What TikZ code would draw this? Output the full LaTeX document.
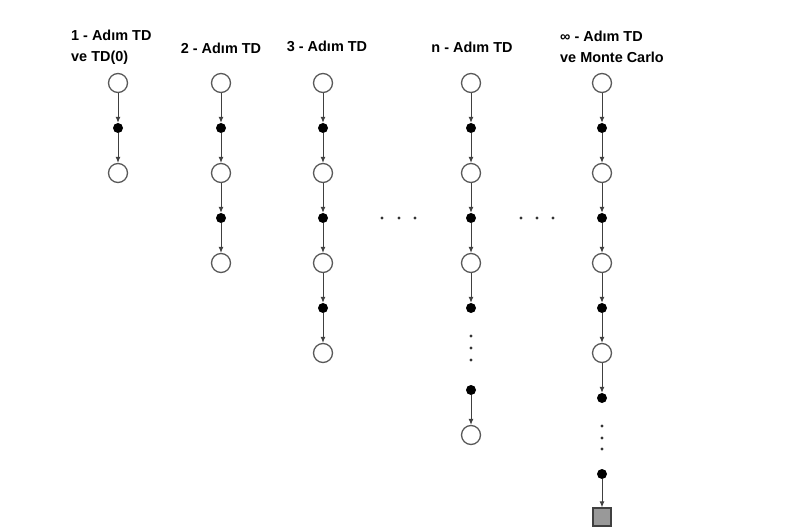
\documentclass[tikz,border=0pt]{standalone}
\usepackage{fontspec}
\setmainfont{Liberation Sans}
\usetikzlibrary{arrows.meta}
\tikzset{
  durum/.style={circle,draw=black!65,line width=1.3pt,fill=white,minimum size=19bp,inner sep=0pt},
  eylem/.style={circle,fill=black,minimum size=10bp,inner sep=0pt},
  son/.style={rectangle,draw=black!75,line width=1.2pt,fill=black!40,minimum size=18bp,inner sep=0pt},
  ok/.style={-{Latex[length=6bp,width=5bp]},black!75,line width=1pt},
  baslik/.style={font=\fontsize{14.5}{21}\selectfont\bfseries,align=left,inner sep=0pt},
  nokta/.style={circle,fill=black!80,minimum size=3.2bp,inner sep=0pt}
}
\begin{document}
\begin{tikzpicture}[x=1bp,y=-1bp]
    \useasboundingbox[fill=white] (0,0) rectangle (797,531);
    % basliklar
    \node[baslik,anchor=west] (h1) at (71,47.5) {1 - Adım TD\\ve TD(0)};
    \node[baslik] (h2) at (221,48) {2 - Adım TD};
    \node[baslik] (h3) at (327,46) {3 - Adım TD};
    \node[baslik] (hn) at (472,47) {n - Adım TD};
    \node[baslik,anchor=west] (hs) at (560,47) {∞ - Adım TD\\ve Monte Carlo};
    % 1, 2 ve 3 adim
    \foreach \x/\m/\k in {118/1/a,221/2/b,323/3/c} {
        \node[durum] (\k s0) at (\x,83) {};
        \foreach \i in {1,...,\m} {
            \pgfmathtruncatemacro\p{\i-1}
            \node[eylem] (\k e\i) at (\x,38+90*\i) {};
            \node[durum] (\k s\i) at (\x,83+90*\i) {};
            \draw[ok] (\k s\p) -- (\k e\i);
            \draw[ok] (\k e\i) -- (\k s\i);
        }
    }
    % n adim
    \node[durum] (ns0) at (471,83) {};
    \foreach \i in {1,2,3} {
        \pgfmathtruncatemacro\p{\i-1}
        \node[eylem] (ne\i) at (471,38+90*\i) {};
        \draw[ok] (ns\p) -- (ne\i);
        \ifnum\i<3
            \node[durum] (ns\i) at (471,83+90*\i) {};
            \draw[ok] (ne\i) -- (ns\i);
        \fi
    }
    \foreach \y in {336,348,360} \node[nokta] at (471,\y) {};
    \node[eylem] (nem) at (471,390) {};
    \node[durum] (nsm) at (471,435) {};
    \draw[ok] (nem) -- (nsm);
    % sonsuz adim
    \node[durum] (ms0) at (602,83) {};
    \foreach \i in {1,...,4} {
        \pgfmathtruncatemacro\p{\i-1}
        \node[eylem] (me\i) at (602,38+90*\i) {};
        \draw[ok] (ms\p) -- (me\i);
        \ifnum\i<4
            \node[durum] (ms\i) at (602,83+90*\i) {};
            \draw[ok] (me\i) -- (ms\i);
        \fi
    }
    \foreach \y in {426,438,449} \node[nokta] at (602,\y) {};
    \node[eylem] (mem) at (602,474) {};
    \node[son] (mt) at (602,517) {};
    \draw[ok] (mem) -- (mt);
    % yatay noktalar
    \foreach \x in {382,399,415,521,537,553} \node[nokta] at (\x,218) {};
\end{tikzpicture}
\end{document}
